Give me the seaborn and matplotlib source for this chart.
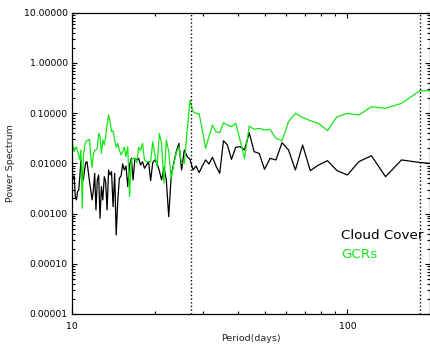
"""
Power spectrum of cloud cover and GCRs against period, log-log.
Writes out.png (431x345).
"""

import numpy as np
import pandas as pd
import matplotlib

matplotlib.use("Agg")
import matplotlib.pyplot as plt
import seaborn as sns
from matplotlib.ticker import FixedLocator, FuncFormatter, LogLocator, NullFormatter

# ---------------------------------------------------------------
# data
# ---------------------------------------------------------------

period = [
    10.00, 10.09, 10.19, 10.28, 10.38, 10.48, 10.58, 10.68, 10.78, 10.89,
    11.00, 11.11, 11.22, 11.34, 11.46, 11.58, 11.70, 11.83, 11.96, 12.09,
    12.22, 12.36, 12.50, 12.64, 12.79, 12.94, 13.10, 13.25, 13.41, 13.58,
    13.75, 13.92, 14.10, 14.29, 14.47, 14.67, 14.86, 15.07, 15.28, 15.49,
    15.71, 15.94, 16.18, 16.42, 16.67, 16.92, 17.19, 17.46, 17.74, 18.03,
    18.33, 18.64, 18.97, 19.30, 19.64, 20.00, 20.37, 20.75, 21.15, 21.57,
    22.00, 22.45, 22.92, 23.40, 23.91, 24.44, 25.00, 25.58, 26.19, 26.83,
    27.50, 28.21, 28.95, 29.73, 30.56, 31.43, 32.35, 33.33, 34.38, 35.48,
    36.67, 37.93, 39.29, 40.74, 42.31, 44.00, 45.83, 47.83, 50.00, 52.38,
    55.00, 57.89, 61.11, 64.71, 68.75, 73.33, 78.57, 84.62, 91.67, 100.00,
    110.00, 122.22, 137.50, 157.14, 183.33, 220.00,
]

cloud_power = [
    0.00684, 0.00481, 0.00560, 0.00217, 0.00187, 0.00273, 0.00295, 0.00543, 0.0117, 0.00587,
    0.00467, 0.00738, 0.0103, 0.0108, 0.00684, 0.00432, 0.00295, 0.00187, 0.00295, 0.00633,
    0.00118, 0.00467, 0.00587, 0.000805, 0.00344, 0.00187, 0.00543, 0.00432, 0.00118, 0.00738,
    0.00587, 0.00684, 0.00137, 0.00633, 0.000375, 0.00187, 0.00504, 0.00560, 0.00971, 0.00738,
    0.00886, 0.00344, 0.00928, 0.0126, 0.00467, 0.0126, 0.0117, 0.0126, 0.00928, 0.0108,
    0.00796, 0.00928, 0.0108, 0.00452, 0.0103, 0.0117, 0.0100, 0.00716, 0.00467, 0.00834,
    0.00467, 0.000869, 0.00560, 0.0100, 0.0171, 0.0250, 0.00738, 0.0185, 0.0136, 0.0120,
    0.00738, 0.00886, 0.00653, 0.00886, 0.0117, 0.00971, 0.0132, 0.00886, 0.00633, 0.0283,
    0.0232, 0.0120, 0.0209, 0.0215, 0.0185, 0.0408, 0.0171, 0.0158, 0.00761, 0.0126,
    0.0117, 0.0258, 0.0185, 0.00738, 0.0232, 0.00716, 0.00928, 0.0113, 0.00716, 0.00587,
    0.0108, 0.0142, 0.00543, 0.0117, 0.0104, 0.00957,
]

gcr_power = [
    0.0292, 0.0215, 0.0171, 0.0199, 0.0215, 0.0171, 0.0147, 0.0117, 0.0185, 0.00127,
    0.0136, 0.0215, 0.0270, 0.0283, 0.0292, 0.0301, 0.0136, 0.00834, 0.0158, 0.0179,
    0.0185, 0.0199, 0.0396, 0.0340, 0.0158, 0.0292, 0.0232, 0.0340, 0.0580, 0.0918,
    0.0676, 0.0428, 0.0448, 0.0292, 0.0209, 0.0250, 0.0185, 0.0147, 0.0171, 0.0209,
    0.0136, 0.0215, 0.00217, 0.0117, 0.0126, 0.0126, 0.0103, 0.0209, 0.0179, 0.0250,
    0.0117, 0.0108, 0.0108, 0.0108, 0.0270, 0.0147, 0.00860, 0.0396, 0.0250, 0.00400,
    0.0292, 0.0171, 0.00504, 0.00928, 0.0163, 0.0215, 0.0100, 0.0100, 0.0461, 0.1826,
    0.1070, 0.0991, 0.0976, 0.0461, 0.0199, 0.0340, 0.0580, 0.0428, 0.0408, 0.0646,
    0.0580, 0.0538, 0.0626, 0.0292, 0.0126, 0.0554, 0.0476, 0.0498, 0.0461, 0.0476,
    0.0315, 0.0283, 0.0676, 0.0991, 0.0825, 0.0708, 0.0626, 0.0448, 0.0850, 0.0991,
    0.0918, 0.1345, 0.1246, 0.1567, 0.280, 0.276,
]

marker_periods = [27.0, 183.0]
x_ticks = [10, 100]
y_ticks = [1e-5, 1e-4, 1e-3, 1e-2, 1e-1, 1, 10]
series_names = ["Cloud Cover", "GCRs"]

df = pd.DataFrame({
    "period": period * 2,
    "power": cloud_power + gcr_power,
    "series": [series_names[0]] * len(period) + [series_names[1]] * len(period),
})

# ---------------------------------------------------------------
# plot
# ---------------------------------------------------------------

sns.set_style("ticks")
plt.rcParams["font.family"] = ["DejaVu Sans"]

GREEN = "#14e614"
palette = {series_names[0]: "black", series_names[1]: GREEN}

fig = plt.figure(figsize=(4.31, 3.45), dpi=100)
ax = fig.add_axes([0.167, 0.090, 0.8315, 0.873])

sns.lineplot(
    data=df, x="period", y="power", hue="series", palette=palette,
    linewidth=0.9, legend=False, sort=False, estimator=None, ax=ax,
)

for p in marker_periods:
    ax.axvline(p, color="black", linestyle=":", linewidth=1.0)

ax.set_xscale("log")
ax.set_yscale("log")
ax.set_xlim(10, 200)
ax.set_ylim(1e-5, 10)

ax.xaxis.set_major_locator(FixedLocator(x_ticks))
ax.xaxis.set_major_formatter(FuncFormatter(lambda v, _: f"{v:g}"))
ax.xaxis.set_minor_locator(LogLocator(base=10, subs=np.arange(2, 10)))
ax.xaxis.set_minor_formatter(NullFormatter())
ax.yaxis.set_major_locator(FixedLocator(y_ticks))
ax.yaxis.set_major_formatter(FuncFormatter(lambda v, _: f"{v:.5f}"))
ax.yaxis.set_minor_locator(LogLocator(base=10, subs=np.arange(2, 10)))
ax.yaxis.set_minor_formatter(NullFormatter())

ax.tick_params(which="both", direction="in", top=True, right=True,
               colors="black", labelsize=6.7, width=0.8)
ax.tick_params(which="major", length=3.8)
ax.tick_params(which="minor", length=2.0)
ax.tick_params(axis="x", which="major", pad=6)
ax.tick_params(axis="y", which="major", pad=3)

for s in ax.spines.values():
    s.set_visible(True)
    s.set_color("black")
    s.set_linewidth(0.9)

ax.set_xlabel("Period(days)", fontsize=6.8, labelpad=2)
ax.set_ylabel("Power Spectrum", fontsize=6.8, labelpad=6)

ax.text(0.752, 0.259, series_names[0], transform=ax.transAxes,
        ha="left", va="center", fontsize=9.7, color="black")
ax.text(0.752, 0.196, series_names[1], transform=ax.transAxes,
        ha="left", va="center", fontsize=9.7, color=GREEN)

fig.savefig("out.png", dpi=100)
plt.close(fig)
